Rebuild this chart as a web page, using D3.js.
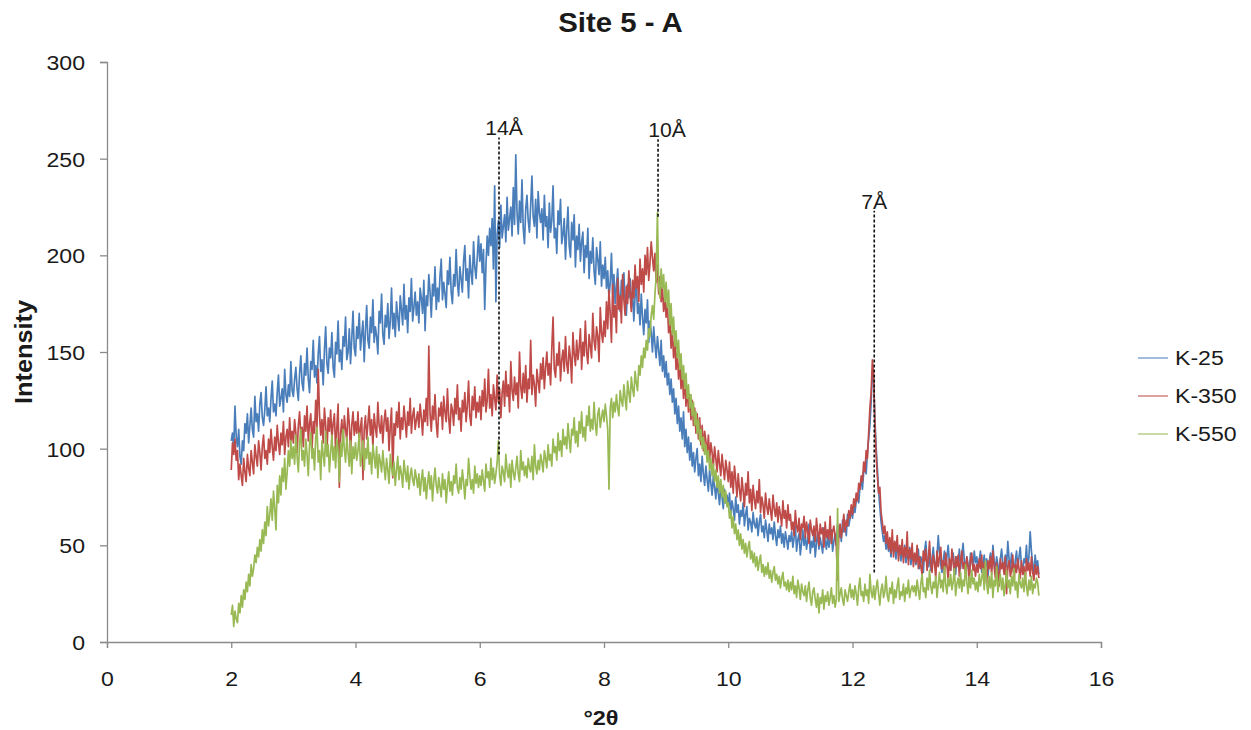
<!DOCTYPE html>
<html>
<head>
<meta charset="utf-8">
<script src="https://cdn.jsdelivr.net/npm/d3@7"></script>
<style>
  html, body { margin: 0; padding: 0; background: #fff; }
  svg { display: block; font-family: "Liberation Sans", Arial, sans-serif; }
</style>
</head>
<body>
<svg id="chart" width="1251" height="730"></svg>
<script>
// Scan grid (°2θ): first angle and step size
const angleStart = 2.0;
const angleStep = 0.02;

// Measured intensities, one value per step from 2.00 to 15.00 °2θ (one row per degree)
const k25 = [
  104,108,100,122,106,101,110,96,92,104,99,113,108,118,103,112,121,110,106,127,114,118,109,123,129,116,112,120,132,117,121,114,126,135,119,123,117,129,138,122,126,131,119,141,128,124,133,127,145,130,
  127,136,142,131,125,139,148,134,130,144,138,152,136,129,145,141,156,137,143,134,149,158,140,146,133,151,163,144,139,152,147,160,142,137,155,149,166,145,151,141,158,153,168,146,150,162,144,157,171,152,
  148,163,157,170,151,159,166,145,161,174,156,152,168,160,177,155,163,158,149,171,165,180,159,154,169,163,175,157,166,183,162,170,158,176,168,161,179,172,164,185,167,174,160,178,171,188,166,173,181,169,
  176,165,183,178,170,187,161,179,174,190,181,168,185,179,194,172,183,176,189,198,177,186,180,173,192,185,199,181,175,190,184,203,186,179,194,188,181,197,205,187,193,178,200,191,185,207,194,188,199,210,
  197,206,191,203,172,195,210,200,214,205,219,193,236,176,211,218,204,226,209,215,221,207,230,213,219,225,210,235,216,252,222,211,228,217,239,214,206,224,231,218,212,226,241,220,215,229,209,233,222,217,
  224,208,231,215,220,204,227,212,218,236,209,214,201,223,216,229,206,211,219,198,213,225,205,199,217,208,221,194,210,203,216,197,207,212,191,205,199,214,188,202,196,209,192,185,204,198,190,207,184,195,
  188,199,183,192,178,186,201,180,190,175,184,193,179,171,187,182,191,176,169,185,178,188,173,181,166,179,186,170,175,164,180,168,159,172,165,177,155,166,160,150,163,154,147,158,151,143,156,140,148,137,
  145,133,139,128,136,124,131,118,126,113,122,109,116,105,119,101,110,98,106,94,103,91,98,88,95,100,86,92,83,96,87,81,91,84,78,89,82,76,86,80,74,84,77,71,81,75,69,79,72,76,
  70,77,66,73,69,63,75,67,71,61,68,65,72,60,66,70,58,64,62,57,67,61,59,64,55,62,66,57,60,54,63,58,52,61,56,59,53,62,55,50,58,54,60,51,56,49,57,53,48,55,
  52,57,49,54,60,47,53,56,45,51,58,50,55,48,53,61,46,52,49,56,44,51,57,48,54,50,46,59,52,48,55,49,53,58,47,52,56,50,61,54,58,52,63,57,61,55,66,60,64,69,
  64,70,67,73,76,72,80,84,79,88,92,87,98,105,112,124,140,136,116,101,90,78,70,62,57,52,55,48,53,47,50,44,52,47,49,43,51,46,48,42,47,44,50,41,46,43,49,40,45,42,
  45,40,43,48,38,44,41,36,47,52,42,39,45,37,43,49,41,38,44,55,46,40,36,42,47,39,44,50,41,37,43,46,39,35,44,41,48,38,45,51,42,37,44,40,36,46,42,39,47,41,
  44,38,42,47,36,40,45,39,43,34,41,46,38,50,42,37,44,40,35,43,48,41,36,45,39,52,43,38,46,40,35,42,47,38,44,49,39,36,43,41,50,38,44,57,47,40,36,45,39,42,
  35
];

const k350 = [
  89,103,97,105,94,99,84,92,86,81,95,88,83,97,90,86,99,93,87,102,96,91,104,98,89,101,107,95,99,92,105,98,110,101,94,106,99,112,103,97,108,102,114,97,106,110,101,116,104,109,
  103,115,108,98,112,119,106,111,101,117,109,122,104,113,118,100,114,108,125,111,141,118,107,115,103,121,112,97,116,109,120,105,113,118,99,111,123,80,108,115,102,117,110,104,121,113,98,112,119,107,
  114,108,119,103,111,116,84,110,117,105,113,122,107,115,101,118,111,106,124,112,108,117,103,114,120,109,116,99,112,121,85,113,107,119,111,124,105,116,110,122,114,106,119,112,126,108,117,121,110,115,
  119,111,123,116,107,120,114,126,112,153,118,109,122,115,128,113,106,121,117,124,110,127,119,114,131,116,108,123,120,112,126,118,133,115,121,109,125,119,129,114,122,135,117,112,127,120,132,116,124,119,
  127,115,130,122,136,119,125,141,121,128,117,133,126,120,138,124,131,116,129,135,122,140,127,133,119,145,130,125,137,128,134,121,150,132,126,139,129,143,124,136,131,156,128,138,133,122,141,135,129,144,
  136,147,131,142,150,138,144,133,152,168,141,137,149,143,155,135,146,151,140,158,144,139,153,147,134,160,149,143,156,146,152,162,141,155,148,166,150,144,159,153,147,170,156,151,163,158,145,173,160,155,
  166,158,176,162,182,170,155,185,168,174,160,188,172,179,165,190,177,169,184,175,192,180,171,187,178,195,183,189,176,198,185,193,181,200,190,204,187,196,207,199,192,201,186,195,180,189,176,184,171,179,
  168,175,160,166,152,161,147,156,141,150,136,145,131,140,126,137,122,132,119,128,115,125,112,121,108,118,105,116,102,112,99,109,104,96,107,94,103,98,91,101,95,88,99,92,86,97,90,84,94,89,
  83,93,80,88,77,91,84,75,87,79,73,85,78,70,82,76,88,72,79,68,81,74,69,78,72,84,67,75,71,64,77,70,66,74,68,63,76,69,65,72,62,70,66,60,73,64,68,59,71,63,
  66,58,62,55,68,60,57,64,53,61,59,65,54,62,57,51,63,58,55,60,52,64,57,50,61,56,59,49,62,54,58,53,65,51,57,60,55,49,32,56,61,54,59,66,57,63,60,68,64,71,
  66,74,70,77,73,82,79,86,83,93,88,99,95,108,121,129,146,138,113,97,86,77,80,67,62,56,60,51,57,48,54,46,58,44,52,47,55,42,50,45,53,41,49,44,57,40,48,43,51,39,
  46,41,50,38,44,39,35,47,42,48,37,43,52,40,36,45,41,33,47,39,44,49,38,42,35,46,40,32,43,37,48,41,36,44,39,45,34,42,47,38,41,35,44,39,31,43,46,37,40,34,
  40,36,43,38,45,34,41,37,30,42,38,44,35,47,39,33,41,36,29,43,38,41,35,44,25,39,42,34,37,45,31,40,36,43,38,33,42,35,39,30,43,37,41,34,44,36,32,40,35,39,
  33
];

const k550 = [
  14,19,8,16,12,10,20,15,24,18,27,22,31,26,35,29,40,34,38,45,41,49,44,53,47,58,51,62,55,70,60,66,74,63,78,69,58,81,72,86,76,90,83,95,79,88,99,91,104,95,
  101,92,107,96,88,103,110,94,99,91,105,97,86,102,108,95,100,89,106,111,93,99,84,104,97,91,109,96,102,88,98,107,94,101,90,105,99,83,103,96,110,100,93,106,98,91,104,87,101,95,
  103,94,99,108,91,97,104,89,100,95,106,92,98,87,102,96,90,101,85,97,93,88,99,91,84,95,89,82,97,90,86,93,81,89,96,84,91,87,80,94,88,83,91,79,86,90,84,81,89,85,
  80,87,76,84,89,78,85,74,82,88,79,86,73,83,90,81,77,85,80,75,87,79,84,72,81,88,78,83,76,86,82,92,80,77,85,79,89,83,74,84,81,95,86,79,84,77,91,82,87,80,
  86,81,89,83,78,92,85,88,80,95,84,90,82,87,93,104,86,81,91,88,83,97,89,85,92,80,94,88,84,90,96,87,83,99,89,93,86,91,85,95,90,88,96,84,102,91,87,94,89,97,
  93,88,99,95,90,102,94,97,91,105,98,101,94,108,99,104,96,110,102,106,100,113,105,98,110,107,116,103,109,101,114,108,119,106,111,104,117,112,122,109,115,110,124,113,107,118,121,111,116,120,
  114,123,117,110,79,121,126,116,124,119,128,121,117,130,125,122,133,126,120,135,129,124,137,131,127,140,134,130,143,138,148,142,152,147,156,151,162,158,169,174,167,180,189,222,185,178,193,183,190,176,
  186,173,182,164,175,159,168,153,161,147,156,141,149,136,143,131,139,126,133,121,128,117,124,112,119,108,115,104,110,100,106,97,102,93,99,89,95,86,92,83,89,80,86,77,84,75,81,72,78,70,
  72,64,68,59,65,56,61,53,58,50,56,48,53,46,51,44,49,52,43,47,41,46,39,44,37,42,45,36,40,34,39,35,41,33,37,31,36,39,32,35,30,34,28,33,36,29,31,27,32,26,
  31,27,34,25,29,23,32,28,22,30,26,24,29,21,27,31,23,19,26,28,22,18,25,15,23,20,27,17,24,21,26,19,23,28,20,24,18,22,69,21,25,28,22,19,27,24,21,26,30,23,
  27,22,29,25,19,28,33,24,26,21,30,24,27,20,35,26,23,29,22,28,32,25,19,27,30,23,26,34,24,21,28,25,31,20,27,23,29,33,22,26,24,30,21,28,25,32,23,27,29,26,
  29,24,32,27,22,30,35,26,28,23,33,27,37,29,25,31,28,34,23,30,36,28,32,26,39,30,25,33,29,35,27,31,38,24,30,33,28,36,26,32,29,40,31,25,34,28,37,30,33,27,
  31,26,35,29,33,38,27,42,30,25,34,28,36,23,32,29,39,26,31,35,27,33,24,30,37,28,32,25,34,29,38,27,31,23,35,30,28,33,26,36,29,24,32,27,34,25,30,28,33,31,
  24
];

const seriesNames = ["K-25", "K-350", "K-550"];
const seriesColors = ["#4a7ebb", "#be4b48", "#98b954"];

// Reflections marked on the pattern: label, position (°2θ), marker span (intensity)
const peakLabels = ["14Å", "10Å", "7Å"];
const peakAngles = [6.31, 8.87, 12.35];
const peakLow = [97, 220, 36];
const peakHigh = [261, 260, 223];

const xTicks = [0, 2, 4, 6, 8, 10, 12, 14, 16];
const yTicks = [0, 50, 100, 150, 200, 250, 300];

const svg = d3.select("#chart");
const axisColor = "#8a8a8a";
const textColor = "#1a1a1a";
const fontStack = "'Liberation Sans', Arial, sans-serif";

const x = d3.scaleLinear().domain([0, 16]).range([107, 1101]);
const y = d3.scaleLinear().domain([0, 300]).range([642, 62]);

// Text drawn slightly wide: place at (px, py) in screen units, stretched by k horizontally
function wideText(parent, px, py, k, str) {
  return parent.append("text")
    .attr("x", px / k).attr("y", py)
    .attr("transform", `scale(${k},1)`)
    .attr("fill", textColor)
    .text(str);
}

// Title
wideText(svg, 620.5, 32, 1.05, "Site 5 - A")
  .attr("text-anchor", "middle")
  .attr("font-size", 28).attr("font-weight", "bold");

// Axes
const xAxis = svg.append("g")
  .attr("transform", `translate(0,${y(0)})`)
  .call(d3.axisBottom(x).tickValues(xTicks).tickSize(6).tickPadding(23).tickFormat(d3.format("d")));
const yAxis = svg.append("g")
  .attr("transform", `translate(${x(0)},0)`)
  .call(d3.axisLeft(y).tickValues(yTicks).tickSize(7).tickPadding(15).tickFormat(d3.format("d")));
[xAxis, yAxis].forEach(g => {
  g.select(".domain").attr("stroke", axisColor).attr("stroke-width", 1.3);
  g.selectAll(".tick line").attr("stroke", axisColor).attr("stroke-width", 1.3);
  g.selectAll(".tick text")
    .attr("fill", textColor)
    .attr("font-size", 21)
    .attr("font-family", fontStack)
    .attr("transform", "scale(1.1,1)");
});
xAxis.selectAll(".tick text").attr("dy", "0.71em");
yAxis.selectAll(".tick text").attr("x", -22 / 1.1).attr("dy", "0.35em");

// Axis titles
wideText(svg, x(8) - 3, 725, 1.12, "°2θ")
  .attr("text-anchor", "middle")
  .attr("font-size", 21).attr("font-weight", "bold");
svg.append("text")
  .attr("transform", `translate(32,${y(150)}) rotate(-90) scale(1.1,1)`)
  .attr("text-anchor", "middle")
  .attr("font-size", 23).attr("font-weight", "bold")
  .attr("fill", textColor)
  .text("Intensity");

// Diffraction patterns
const series = [k25, k350, k550];
const line = d3.line()
  .x((d, i) => x(angleStart + i * angleStep))
  .y(d => y(d));

svg.append("g")
  .selectAll("path")
  .data(series)
  .join("path")
  .attr("d", d => line(d))
  .attr("fill", "none")
  .attr("stroke", (d, i) => seriesColors[i])
  .attr("stroke-width", 1.7)
  .attr("stroke-linejoin", "round");

// Reflection markers
const labelShift = [5, 9, 0];
const marks = svg.append("g");
peakLabels.forEach((label, i) => {
  marks.append("line")
    .attr("x1", x(peakAngles[i])).attr("x2", x(peakAngles[i]))
    .attr("y1", y(peakLow[i])).attr("y2", y(peakHigh[i]))
    .attr("stroke", "#111")
    .attr("stroke-width", 1.6)
    .attr("stroke-dasharray", "3,2");
  wideText(marks, x(peakAngles[i]) + labelShift[i], y(peakHigh[i]) - 2, 1.06, label)
    .attr("text-anchor", "middle")
    .attr("font-size", 20);
});

// Legend
const legend = svg.append("g").attr("transform", "translate(1138,358)");
seriesNames.forEach((name, i) => {
  const row = legend.append("g").attr("transform", `translate(0,${i * 38})`);
  row.append("line")
    .attr("x1", 0).attr("x2", 30)
    .attr("stroke", seriesColors[i])
    .attr("stroke-opacity", 0.7)
    .attr("stroke-width", 1.5);
  wideText(row, 37, 0, 1.1, name)
    .attr("dy", "0.35em")
    .attr("font-size", 21);
});
</script>
</body>
</html>
